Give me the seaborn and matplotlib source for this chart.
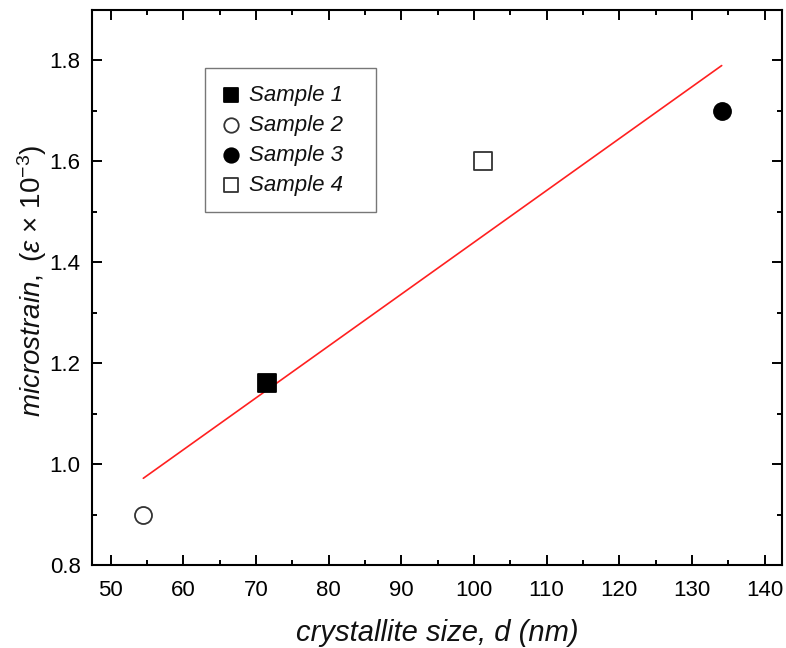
import numpy as np
import pandas as pd
import matplotlib
matplotlib.use("Agg")
import matplotlib.pyplot as plt
import seaborn as sns
from matplotlib.ticker import MultipleLocator

sns.set_theme(style="ticks")
plt.rcParams['font.family'] = ['Liberation Sans', 'DejaVu Sans']
plt.rcParams['mathtext.fontset'] = 'custom'
plt.rcParams['mathtext.rm'] = 'Liberation Sans'
plt.rcParams['mathtext.it'] = 'Liberation Sans:italic'

# Data
samples = ["Sample 1", "Sample 2", "Sample 3", "Sample 4"]
crystallite_size = [71.5, 54.5, 134.1, 101.2]
microstrain = [1.16, 0.90, 1.70, 1.60]
markers = ["s", "o", "o", "s"]
filled = [True, False, True, False]

df = pd.DataFrame({"sample": samples, "d": crystallite_size, "eps": microstrain})

fig = plt.figure(figsize=(7.86, 6.48), dpi=100)
ax = fig.add_axes([0.1167, 0.1281, 0.8782, 0.8565])

# linear fit line
sns.regplot(data=df, x="d", y="eps", scatter=False, ci=None, truncate=True,
            color="#ff2020", line_kws={"linewidth": 1.2}, ax=ax)

for i, row in df.iterrows():
    fc = "black" if filled[i] else "white"
    ec = "black" if filled[i] else "#333333"
    sns.scatterplot(x=[row["d"]], y=[row["eps"]], marker=markers[i], s=150,
                    color=fc, edgecolor=ec, linewidth=1.3, label=row["sample"],
                    ax=ax, zorder=3)

ax.set_xlim(47.4, 142.4)
ax.set_ylim(0.8, 1.9)
ax.xaxis.set_major_locator(MultipleLocator(10))
ax.xaxis.set_minor_locator(MultipleLocator(5))
ax.yaxis.set_major_locator(MultipleLocator(0.2))
ax.yaxis.set_minor_locator(MultipleLocator(0.1))
ax.yaxis.set_major_formatter(matplotlib.ticker.FormatStrFormatter('%.1f'))

ax.tick_params(which="both", direction="in", top=True, right=True, width=1.4,
               labelsize=16, colors="black")
ax.tick_params(which="major", length=7.5)
ax.tick_params(which="minor", length=3.5)
ax.tick_params(axis="x", which="major", pad=10.5)
ax.tick_params(axis="y", which="major", pad=8)
for s in ax.spines.values():
    s.set_linewidth(1.5)
    s.set_color("black")

ax.set_xlabel("crystallite size, d (nm)", fontsize=21, fontstyle="italic",
              labelpad=13, color="#111111")
ax.set_ylabel(r"$\mathit{microstrain,}$ ($\mathit{\varepsilon}$ $\times$ 10$^{-3}$)",
              fontsize=20, color="#111111")
ax.yaxis.set_label_coords(-0.062, 0.512)

leg = ax.legend(loc="upper left", bbox_to_anchor=(0.1641, 0.6366, 0.2478, 0.2584),
                mode="expand", borderaxespad=0,
                prop={"style": "italic", "size": 16},
                frameon=True, fancybox=False, edgecolor="#555555",
                labelspacing=0.4, handlelength=0.8, handletextpad=0.45,
                borderpad=0.75, markerscale=0.85)
leg.get_frame().set_linewidth(1.0)
for t in leg.get_texts():
    t.set_color("#111111")

fig.savefig("out.png", dpi=100)
